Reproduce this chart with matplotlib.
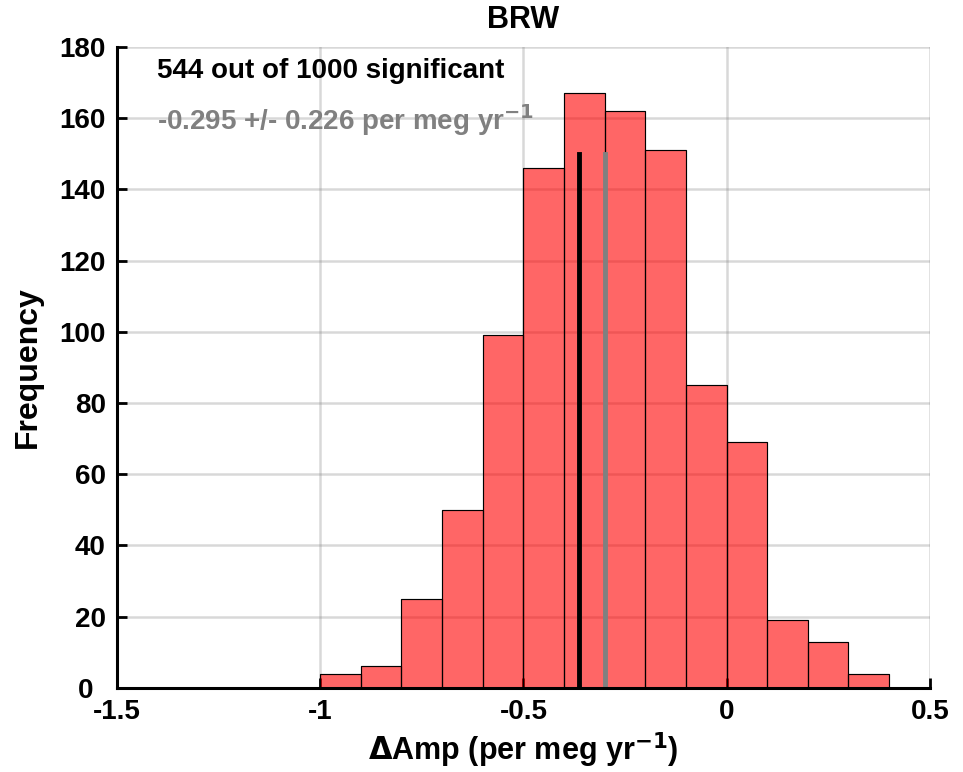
import matplotlib.pyplot as plt
from matplotlib.transforms import ScaledTranslation

plt.rcParams['font.family'] = ['Liberation Sans', 'DejaVu Sans']
plt.rcParams['font.weight'] = 'bold'
plt.rcParams['mathtext.default'] = 'bf'

# histogram of the 1000 trend estimates
bin_edges = [-1.0, -0.9, -0.8, -0.7, -0.6, -0.5, -0.4, -0.3, -0.2, -0.1,
             0.0, 0.1, 0.2, 0.3, 0.4]
counts = [4, 6, 25, 50, 99, 146, 167, 162, 151, 85, 69, 19, 13, 4]

median_val = -0.363
mean_val = -0.30
line_top = 150

title = 'BRW'
note1 = '544 out of 1000 significant'
note2 = '-0.295 +/- 0.226 per meg yr$^{-1}$'

fig = plt.figure(figsize=(9.63, 7.72), dpi=100)
ax = fig.add_axes([0.1215, 0.109, 0.844, 0.830])

ax.hist(bin_edges[:-1], bins=bin_edges, weights=counts,
        color='red', alpha=0.6, edgecolor='black', linewidth=0.8, zorder=2)
# redraw edges fully opaque
ax.hist(bin_edges[:-1], bins=bin_edges, weights=counts,
        histtype='bar', fill=False, edgecolor='black', linewidth=0.8, zorder=3)

ax.plot([median_val, median_val], [0, line_top], color='black', lw=3.5, zorder=4)
ax.plot([mean_val, mean_val], [0, line_top], color='gray', lw=3.5, zorder=4)

ax.set_xlim(-1.5, 0.5)
ax.set_ylim(0, 180)
ax.set_xticks([-1.5, -1, -0.5, 0, 0.5])
ax.set_xticklabels(['-1.5', '-1', '-0.5', '0', '0.5'])
ax.set_yticks(range(0, 181, 20))

# grid shows through the bars like in the original
ax.grid(True, color='gray', alpha=0.3, lw=1.8)
for gl in ax.get_xgridlines() + ax.get_ygridlines():
    gl.set_zorder(2.5)
for s in ['top', 'right']:
    ax.spines[s].set_visible(False)
for s in ['left', 'bottom']:
    ax.spines[s].set_linewidth(2.2)
    ax.spines[s].set_zorder(5)
ax.tick_params(direction='in', length=7, width=2, labelsize=20, pad=8)

# the zero label sits a bit further left in the original
ylabs = ax.get_yticklabels()
ylabs[0].set_transform(ylabs[0].get_transform() +
                       ScaledTranslation(-0.13, 0, fig.dpi_scale_trans))

ax.set_title(title, fontsize=22, fontweight='bold', pad=14)
ax.set_xlabel(r'$\Delta$Amp (per meg yr$^{-1}$)', fontsize=22, fontweight='bold')
ax.set_ylabel('Frequency', fontsize=23, fontweight='bold', labelpad=12)

ax.text(0.049, 0.962, note1, transform=ax.transAxes, fontsize=20,
        fontweight='bold', color='black', va='center')
ax.text(0.049, 0.886, note2, transform=ax.transAxes, fontsize=20,
        fontweight='bold', color='gray', va='center')

fig.savefig('out.png', dpi=100)
